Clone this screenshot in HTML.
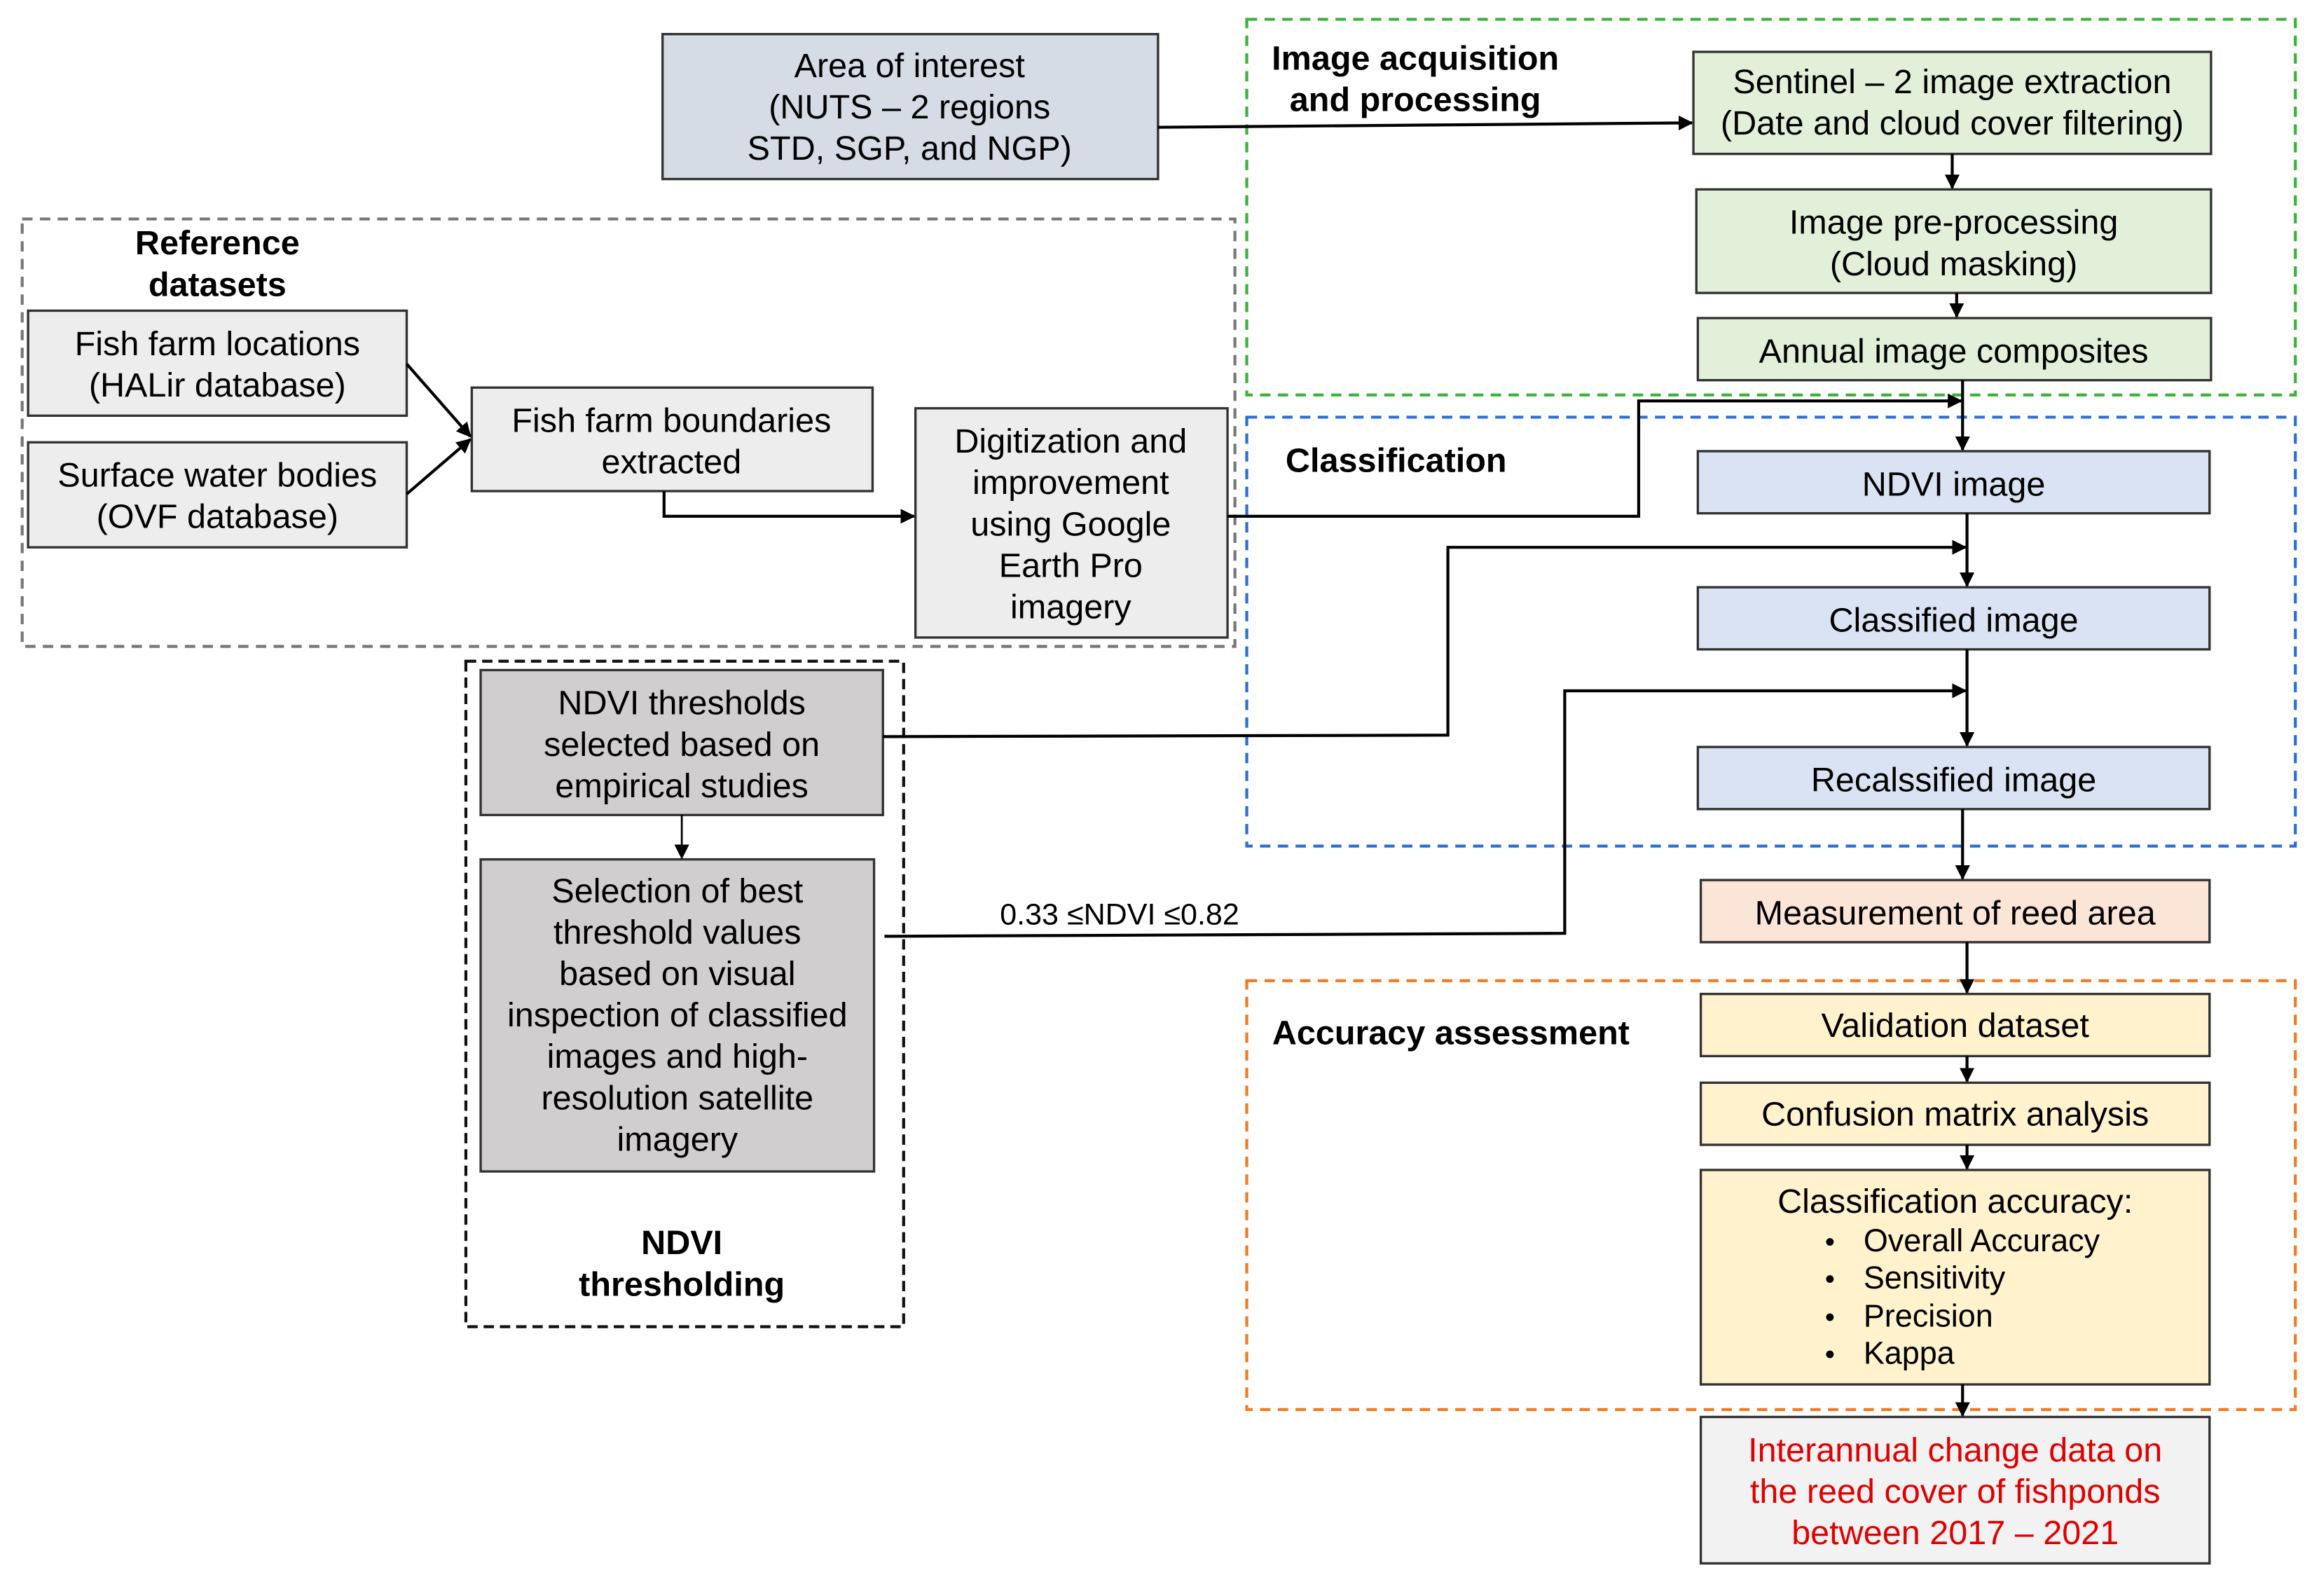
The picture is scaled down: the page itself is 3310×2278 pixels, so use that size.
<!DOCTYPE html>
<html><head><meta charset="utf-8"><style>
html,body{margin:0;padding:0;background:#fff}
svg{display:block}
text{font-family:"Liberation Sans",Arial,sans-serif;font-size:23px;fill:#000;text-anchor:middle}
.b{font-weight:bold}
.box{stroke:#333;stroke-width:1.6}
.ln{stroke:#000;stroke-width:2;fill:none}
</style></head><body>
<svg width="3310" height="2278" viewBox="0 0 1568 1079" xmlns="http://www.w3.org/2000/svg">
<defs>
<marker id="a" markerWidth="10" markerHeight="10" refX="9" refY="5" orient="auto" markerUnits="userSpaceOnUse"><path d="M0,0 L10,5 L0,10 z" fill="#000"/></marker>
</defs>
<rect x="15" y="148" width="820" height="289" fill="none" stroke="#777" stroke-width="2" stroke-dasharray="7,5"/>
<rect x="843" y="13" width="709" height="254" fill="none" stroke="#3bb33b" stroke-width="2" stroke-dasharray="7,5"/>
<rect x="843" y="282" width="709" height="290" fill="none" stroke="#2a6fd6" stroke-width="2" stroke-dasharray="7,5"/>
<rect x="843" y="663" width="709" height="290" fill="none" stroke="#f07c24" stroke-width="2" stroke-dasharray="7,5"/>
<rect x="315" y="447" width="296" height="450" fill="none" stroke="#111" stroke-width="2" stroke-dasharray="7,4"/>

<text class="b" x="147" y="172">Reference</text>
<text class="b" x="147" y="200">datasets</text>
<text class="b" x="957" y="47">Image acquisition</text>
<text class="b" x="957" y="75">and processing</text>
<text class="b" x="944" y="319">Classification</text>
<text class="b" x="981" y="706">Accuracy assessment</text>
<text class="b" x="461" y="848">NDVI</text>
<text class="b" x="461" y="876">thresholding</text>

<rect class="box" x="448" y="23" width="335" height="98" fill="#d6dce5"/>
<text x="615" y="52">Area of interest</text><text x="615" y="80">(NUTS – 2 regions</text><text x="615" y="108">STD, SGP, and NGP)</text>

<rect class="box" x="1145" y="35" width="350" height="69" fill="#e2f0d9"/>
<text x="1320" y="63">Sentinel – 2 image extraction</text><text x="1320" y="91">(Date and cloud cover filtering)</text>
<rect class="box" x="1147" y="128" width="348" height="70" fill="#e2f0d9"/>
<text x="1321" y="158">Image pre-processing</text><text x="1321" y="186">(Cloud masking)</text>
<rect class="box" x="1148" y="215" width="347" height="42" fill="#e2f0d9"/>
<text x="1321" y="245">Annual image composites</text>

<rect class="box" x="1148" y="305" width="346" height="42" fill="#dae3f3"/>
<text x="1321" y="335">NDVI image</text>
<rect class="box" x="1148" y="397" width="346" height="42" fill="#dae3f3"/>
<text x="1321" y="427">Classified image</text>
<rect class="box" x="1148" y="505" width="346" height="42" fill="#dae3f3"/>
<text x="1321" y="535">Recalssified image</text>

<rect class="box" x="1150" y="595" width="344" height="42" fill="#fbe5d6"/>
<text x="1322" y="625">Measurement of reed area</text>

<rect class="box" x="1150" y="672" width="344" height="42" fill="#fff2cc"/>
<text x="1322" y="701">Validation dataset</text>
<rect class="box" x="1150" y="732" width="344" height="42" fill="#fff2cc"/>
<text x="1322" y="761">Confusion matrix analysis</text>
<rect class="box" x="1150" y="791" width="344" height="145" fill="#fff2cc"/>
<text x="1322" y="820">Classification accuracy:</text>
<text x="1234" y="846" style="text-anchor:start;font-size:19px">•</text><text x="1260" y="846" style="text-anchor:start;font-size:21.3px">Overall Accuracy</text>
<text x="1234" y="871" style="text-anchor:start;font-size:19px">•</text><text x="1260" y="871" style="text-anchor:start;font-size:21.3px">Sensitivity</text>
<text x="1234" y="897" style="text-anchor:start;font-size:19px">•</text><text x="1260" y="897" style="text-anchor:start;font-size:21.3px">Precision</text>
<text x="1234" y="922" style="text-anchor:start;font-size:19px">•</text><text x="1260" y="922" style="text-anchor:start;font-size:21.3px">Kappa</text>
<rect class="box" x="1150" y="958" width="344" height="99" fill="#f2f2f2"/>
<text x="1322" y="988" style="fill:#e00000">Interannual change data on</text>
<text x="1322" y="1016" style="fill:#e00000">the reed cover of fishponds</text>
<text x="1322" y="1044" style="fill:#e00000">between 2017 – 2021</text>

<rect class="box" x="19" y="210" width="256" height="71" fill="#ededed"/>
<text x="147" y="240">Fish farm locations</text><text x="147" y="268">(HALir database)</text>
<rect class="box" x="19" y="299" width="256" height="71" fill="#ededed"/>
<text x="147" y="329">Surface water bodies</text><text x="147" y="357">(OVF database)</text>
<rect class="box" x="319" y="262" width="271" height="70" fill="#ededed"/>
<text x="454" y="292">Fish farm boundaries</text><text x="454" y="320">extracted</text>
<rect class="box" x="619" y="276" width="211" height="155" fill="#ededed"/>
<text x="724" y="306">Digitization and</text><text x="724" y="334">improvement</text><text x="724" y="362">using Google</text><text x="724" y="390">Earth Pro</text><text x="724" y="418">imagery</text>

<rect class="box" x="325" y="453" width="272" height="98" fill="#d0cece"/>
<text x="461" y="483">NDVI thresholds</text><text x="461" y="511">selected based on</text><text x="461" y="539">empirical studies</text>
<rect class="box" x="325" y="581" width="266" height="211" fill="#d0cece"/>
<text x="458" y="610">Selection of best</text><text x="458" y="638">threshold values</text><text x="458" y="666">based on visual</text><text x="458" y="694">inspection of classified</text><text x="458" y="722">images and  high-</text><text x="458" y="750">resolution satellite</text><text x="458" y="778">imagery</text>

<text x="757" y="625" style="font-size:20.4px">0.33 ≤NDVI ≤0.82</text>

<path class="ln" d="M783,86 L1144,83" marker-end="url(#a)"/>
<path class="ln" d="M1320,104 L1320,127" marker-end="url(#a)"/>
<path class="ln" d="M1323,198 L1323,214" marker-end="url(#a)"/>
<path class="ln" d="M1327,257 L1327,304" marker-end="url(#a)"/>
<path class="ln" d="M830,349 L1108,349 L1108,271 L1326,271" marker-end="url(#a)"/>
<path class="ln" d="M1330,347 L1330,396" marker-end="url(#a)"/>
<path class="ln" d="M597,498 L979,497 L979,370 L1329,370" marker-end="url(#a)"/>
<path class="ln" d="M1330,439 L1330,504" marker-end="url(#a)"/>
<path class="ln" d="M598,633 L1058,631 L1058,467 L1329,467" marker-end="url(#a)"/>
<path class="ln" d="M1327,547 L1327,594" marker-end="url(#a)"/>
<path class="ln" d="M1330,637 L1330,671" marker-end="url(#a)"/>
<path class="ln" d="M1330,714 L1330,731" marker-end="url(#a)"/>
<path class="ln" d="M1330,774 L1330,790" marker-end="url(#a)"/>
<path class="ln" d="M1327,936 L1327,957" marker-end="url(#a)"/>
<path class="ln" style="stroke-width:1.3" d="M461,551 L461,580" marker-end="url(#a)"/>
<path class="ln" d="M275,246 L318,295" marker-end="url(#a)"/>
<path class="ln" d="M275,334 L318,297" marker-end="url(#a)"/>
<path class="ln" d="M449,332 L449,349 L618,349" marker-end="url(#a)"/>
</svg>
</body></html>
